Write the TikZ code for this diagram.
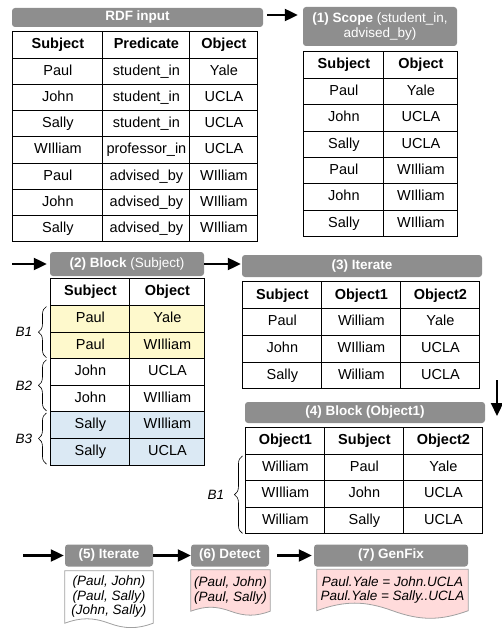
\documentclass[tikz,border=0pt]{standalone}
\usepackage{fontspec}
\setmainfont{Liberation Sans}
\usepackage{tikz}
\usetikzlibrary{arrows.meta}
\usetikzlibrary{positioning,decorations.pathreplacing}
\usetikzlibrary{matrix,calc,backgrounds}
\usepackage{xcolor}
\definecolor{stagegray}{RGB}{142,142,142}
\definecolor{blkyellow}{RGB}{254,249,204}
\definecolor{blkblue}{RGB}{219,233,244}
\definecolor{fixpink}{RGB}{255,219,219}
\definecolor{boxgray}{RGB}{160,160,160}
\newcommand{\cellfont}{\fontsize{14.5}{16}\selectfont}
\newcommand{\stagefont}{\fontsize{13.5}{15.5}\selectfont}
\tikzset{
    stage/.style={
        fill=stagegray,
        rounded corners=3pt,
        text=white,
        inner sep=0pt,
        align=center,
        font=\stagefont\bfseries
    },
    tbl/.style={
        matrix of nodes,
        anchor=north west,
        line width=0.9pt,
        inner sep=0pt,
        row sep=-\pgflinewidth,
        column sep=-\pgflinewidth,
        nodes={draw, inner sep=0pt, anchor=center, minimum height=26.5pt,
               text height=10.5pt, text depth=3pt, font=\cellfont},
        row 1/.style={nodes={font=\cellfont\bfseries}}
    },
    flow/.style={
        -{Triangle[length=13pt, width=12pt]},
        line width=2.2pt
    },
    grp/.style={
        decorate,
        decoration={brace, amplitude=8pt},
        line width=0.6pt
    },
    doc/.style={
        inner sep=0pt,
        align=center,
        font=\fontsize{13.5}{14.5}\selectfont\itshape
    },
    docline/.style={
        draw=boxgray,
        line width=0.8pt
    }
}

\begin{document}
\begin{tikzpicture}[x=1pt, y=-1pt]
    \useasboundingbox (0,0) rectangle (502,628);

    % RDF input
    \node[stage, minimum width=251pt, minimum height=19pt] (rdfhead) at (137.5,17.5) {RDF input};
    \matrix[tbl, nodes={minimum height=26.25pt},
        column 1/.style={nodes={minimum width=90pt}},
        column 2/.style={nodes={minimum width=87pt}},
        column 3/.style={nodes={minimum width=68pt}}] (rdf) at (12,31) {
        Subject & Predicate & Object \\
        Paul & student\_in & Yale \\
        John & student\_in & UCLA \\
        Sally & student\_in & UCLA \\
        WIlliam & professor\_in & UCLA \\
        Paul & advised\_by & WIlliam \\
        John & advised\_by & WIlliam \\
        Sally & advised\_by & WIlliam \\
    };

    % (1) Scope
    \node[stage, minimum width=154pt, minimum height=39pt] (scopehead) at (380,26.5)
        {(1) Scope {\mdseries (student\_in,}\\{\mdseries advised\_by)}};
    \matrix[tbl, nodes={minimum height=26.4pt},
        column 1/.style={nodes={minimum width=80pt}},
        column 2/.style={nodes={minimum width=74pt}}] (scope) at (303,51) {
        Subject & Object \\
        Paul & Yale \\
        John & UCLA \\
        Sally & UCLA \\
        Paul & WIlliam \\
        John & WIlliam \\
        Sally & WIlliam \\
    };

    % (2) Block on Subject
    \node[stage, minimum width=154pt, minimum height=24pt] (subjblockhead) at (127,264)
        {(2) Block {\mdseries (Subject)}};
    \matrix[tbl, nodes={minimum height=26.6pt},
        column 1/.style={nodes={minimum width=79pt}},
        column 2/.style={nodes={minimum width=75pt}},
        row 2/.style={nodes={fill=blkyellow}},
        row 3/.style={nodes={fill=blkyellow}},
        row 6/.style={nodes={fill=blkblue}},
        row 7/.style={nodes={fill=blkblue}}] (subjblock) at (50,278) {
        Subject & Object \\
        Paul & Yale \\
        Paul & WIlliam \\
        John & UCLA \\
        John & WIlliam \\
        Sally & WIlliam \\
        Sally & UCLA \\
    };
    \draw[grp] ([xshift=-4pt,yshift=1.5pt]subjblock-3-1.south west) -- ([xshift=-4pt,yshift=-1.5pt]subjblock-2-1.north west)
        node[doc, midway, left=14pt] (b1) {B1};
    \draw[grp] ([xshift=-4pt,yshift=1.5pt]subjblock-5-1.south west) -- ([xshift=-4pt,yshift=-1.5pt]subjblock-4-1.north west)
        node[doc, midway, left=14pt] (b2) {B2};
    \draw[grp] ([xshift=-4pt,yshift=1.5pt]subjblock-7-1.south west) -- ([xshift=-4pt,yshift=-1.5pt]subjblock-6-1.north west)
        node[doc, midway, left=14pt] (b3) {B3};

    % (3) Iterate
    \node[stage, minimum width=240pt, minimum height=22pt] (iterhead) at (362,266) {(3) Iterate};
    \matrix[tbl, nodes={minimum height=26.75pt},
        column 1/.style={nodes={minimum width=79pt}},
        column 2/.style={nodes={minimum width=79pt}},
        column 3/.style={nodes={minimum width=79pt}}] (iter) at (242,281) {
        Subject & Object1 & Object2 \\
        Paul & William & Yale \\
        John & WIlliam & UCLA \\
        Sally & William & UCLA \\
    };

    % (4) Block on Object1
    \node[stage, minimum width=240pt, minimum height=21pt] (objblockhead) at (365,412.5) {(4) Block (Object1)};
    \matrix[tbl, nodes={minimum height=26.5pt},
        column 1/.style={nodes={minimum width=79pt}},
        column 2/.style={nodes={minimum width=79pt}},
        column 3/.style={nodes={minimum width=79pt}}] (objblock) at (245,427) {
        Object1 & Subject & Object2 \\
        William & Paul & Yale \\
        WIlliam & John & UCLA \\
        William & Sally & UCLA \\
    };
    \draw[grp] ([xshift=-3pt,yshift=1pt]objblock-4-1.south west) -- ([xshift=-3pt,yshift=-2pt]objblock-2-1.north west)
        node[doc, midway, left=18pt] (b4) {B1};

    % (5) Iterate, (6) Detect, (7) GenFix
    \node[stage, minimum width=88pt, minimum height=22pt] (pairhead) at (109,555.5) {(5) Iterate};
    \node[stage, minimum width=78pt, minimum height=22pt] (detecthead) at (230,555.5) {(6) Detect};
    \node[stage, minimum width=154pt, minimum height=22pt] (fixhead) at (391,555.5) {(7) GenFix};

    \node[doc, minimum width=88pt, minimum height=52pt] (pairs) at (109,597)
        {(Paul, John)\\(Paul, Sally)\\(John, Sally)};
    \node[doc, minimum width=79pt, minimum height=41pt] (conflicts) at (230.5,590.5)
        {(Paul, John)\\(Paul, Sally)};
    \node[doc, minimum width=151pt, minimum height=41pt] (fixes) at (392.5,590)
        {Paul.Yale = John.UCLA\\Paul.Yale = Sally..UCLA};

    \begin{pgfonlayer}{background}
        \draw[docline, fill=white] (pairs.south west) -- (pairs.north west) -- (pairs.north east) -- (pairs.south east)
            to[out=200, in=-20] (pairs.south) to[out=160, in=20] (pairs.south west) -- cycle;
        \draw[docline, fill=fixpink] (conflicts.south west) -- (conflicts.north west) -- (conflicts.north east) -- (conflicts.south east)
            to[out=200, in=-20] (conflicts.south) to[out=160, in=20] (conflicts.south west) -- cycle;
        \draw[docline, fill=fixpink] (fixes.south west) -- (fixes.north west) -- (fixes.north east) -- (fixes.south east)
            to[out=200, in=-20] (fixes.south) to[out=160, in=20] (fixes.south west) -- cycle;
    \end{pgfonlayer}

    % Arrows
    \coordinate (blockin) at (12,264);
    \coordinate (downtop) at (497,380);
    \coordinate (downend) at (497,416);
    \coordinate (pairin) at (23,555.5);

    \draw[flow] ($(rdfhead.east)+(4pt,2.5pt)$) -- ($(rdfhead.east -| scopehead.west)+(-5pt,2.5pt)$);
    \draw[flow, shorten >=3pt] (blockin) -- (subjblockhead.west);
    \draw[flow, shorten >=1pt] (subjblockhead.east) -- (subjblockhead.east -| iterhead.west);
    \draw[flow] (downtop) -- (downend);
    \draw[flow, shorten >=1pt] (pairin) -- (pairhead.west);
    \draw[flow] (pairhead) -- (detecthead);
    \draw[flow, shorten <=8pt, shorten >=2pt] (detecthead) -- (fixhead);
\end{tikzpicture}
\end{document}
